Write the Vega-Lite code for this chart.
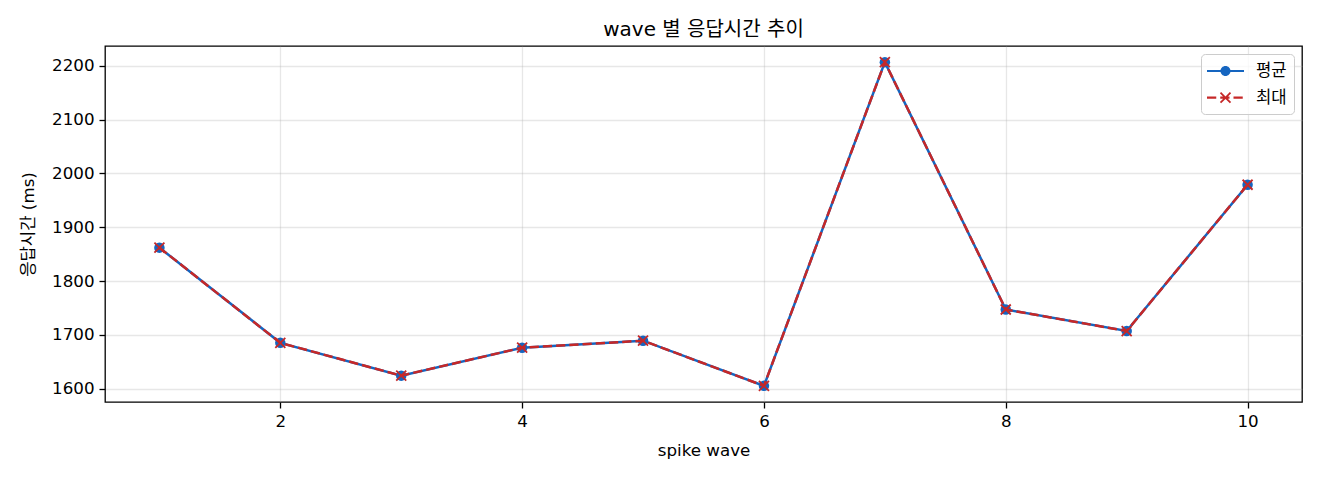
{
  "$schema": "https://vega.github.io/schema/vega-lite/v6.json",
  "width": 1197,
  "height": 356,
  "autosize": {"type": "none"},
  "padding": {"left": 105, "top": 46, "right": 18, "bottom": 78},
  "background": "white",
  "title": {"text": "wave 별 응답시간 추이", "anchor": "middle", "frame": "group", "fontSize": 20, "fontWeight": "normal", "font": "DejaVu Sans, Noto Sans CJK KR", "color": "#000", "offset": 6},
  "config": {
    "font": "DejaVu Sans, Noto Sans CJK KR",
    "view": {"stroke": "#000", "strokeWidth": 1.3},
    "axis": {
      "domain": false, "grid": true, "gridColor": "#b0b0b0", "gridOpacity": 0.3, "gridWidth": 1.3,
      "tickColor": "#000", "tickSize": 6, "tickWidth": 1.3,
      "labelFontSize": 16.7, "labelColor": "#000", "labelPadding": 5,
      "labelFont": "DejaVu Sans, Noto Sans CJK KR",
      "titleFont": "DejaVu Sans, Noto Sans CJK KR",
      "titleFontSize": 16.7, "titleColor": "#000", "titleFontWeight": "normal"
    }
  },
  "data": {"values": [
    {"wave": 1, "series": "평균", "ms": 1862}, {"wave": 2, "series": "평균", "ms": 1685},
    {"wave": 3, "series": "평균", "ms": 1624}, {"wave": 4, "series": "평균", "ms": 1676},
    {"wave": 5, "series": "평균", "ms": 1689}, {"wave": 6, "series": "평균", "ms": 1605},
    {"wave": 7, "series": "평균", "ms": 2207}, {"wave": 8, "series": "평균", "ms": 1747},
    {"wave": 9, "series": "평균", "ms": 1707}, {"wave": 10, "series": "평균", "ms": 1979},
    {"wave": 1, "series": "최대", "ms": 1862}, {"wave": 2, "series": "최대", "ms": 1685},
    {"wave": 3, "series": "최대", "ms": 1624}, {"wave": 4, "series": "최대", "ms": 1676},
    {"wave": 5, "series": "최대", "ms": 1689}, {"wave": 6, "series": "최대", "ms": 1605},
    {"wave": 7, "series": "최대", "ms": 2207}, {"wave": 8, "series": "최대", "ms": 1747},
    {"wave": 9, "series": "최대", "ms": 1707}, {"wave": 10, "series": "최대", "ms": 1979}
  ]},
  "encoding": {
    "x": {"field": "wave", "type": "quantitative", "scale": {"domain": [0.55, 10.45], "nice": false, "zero": false},
          "axis": {"values": [2, 4, 6, 8, 10], "title": "spike wave", "titlePadding": 13}},
    "y": {"field": "ms", "type": "quantitative", "scale": {"domain": [1575, 2237], "nice": false, "zero": false},
          "axis": {"values": [1600, 1700, 1800, 1900, 2000, 2100, 2200], "format": "d", "title": "응답시간 (ms)", "titlePadding": 14}}
  },
  "layer": [
    {"transform": [{"filter": "datum.series === '평균'"}],
     "mark": {"type": "line", "color": "#1565C0", "strokeWidth": 2.5}},
    {"transform": [{"filter": "datum.series === '평균'"}],
     "mark": {"type": "point", "shape": "circle", "filled": true, "color": "#1565C0", "size": 110, "opacity": 1}},
    {"transform": [{"filter": "datum.series === '최대'"}],
     "mark": {"type": "line", "color": "#C62828", "strokeWidth": 2.5, "strokeDash": [9.25, 4]}},
    {"transform": [{"filter": "datum.series === '최대'"}],
     "mark": {"type": "point", "shape": "M-1,-1L1,1M-1,1L1,-1", "filled": false, "color": "#C62828", "strokeWidth": 1.8, "size": 100, "opacity": 1}},
    {"transform": [{"filter": "datum.wave > 100"}],
     "mark": {"type": "point", "filled": true, "opacity": 1},
     "encoding": {
       "color": {"field": "series", "type": "nominal", "scale": {"domain": ["평균", "최대"], "range": ["#1565C0", "#C62828"]},
         "legend": {"title": null, "orient": "top-right", "offset": 8, "padding": 7, "symbolSize": 400, "symbolOpacity": 1,
           "symbolStrokeWidth": 0, "rowPadding": 7.7, "labelOffset": 28, "labelFontSize": 16.7, "labelColor": "#000",
           "labelFont": "DejaVu Sans, Noto Sans CJK KR",
           "fillColor": "rgba(255,255,255,0.8)", "strokeColor": "#cccccc", "cornerRadius": 4}},
       "shape": {"field": "series", "type": "nominal", "scale": {"domain": ["평균", "최대"], "range": [
         "M-1.1,-0.11H2.6V0.11H-1.1Z M1.25,0A0.5,0.5,0,1,1,0.25,0A0.5,0.5,0,1,1,1.25,0Z",
         "M-1.1,-0.11H-0.175V0.11H-1.1Z M0.225,-0.11H1.15V0.11H0.225Z M1.55,-0.11H2.475V0.11H1.55Z M0.75,-0.127L1.1864,-0.5636L1.3136,-0.4364L0.877,0L1.3136,0.4364L1.1864,0.5636L0.75,0.127L0.3136,0.5636L0.1864,0.4364L0.623,0L0.1864,-0.4364L0.3136,-0.5636Z"
       ]}}
     }}
  ]
}
